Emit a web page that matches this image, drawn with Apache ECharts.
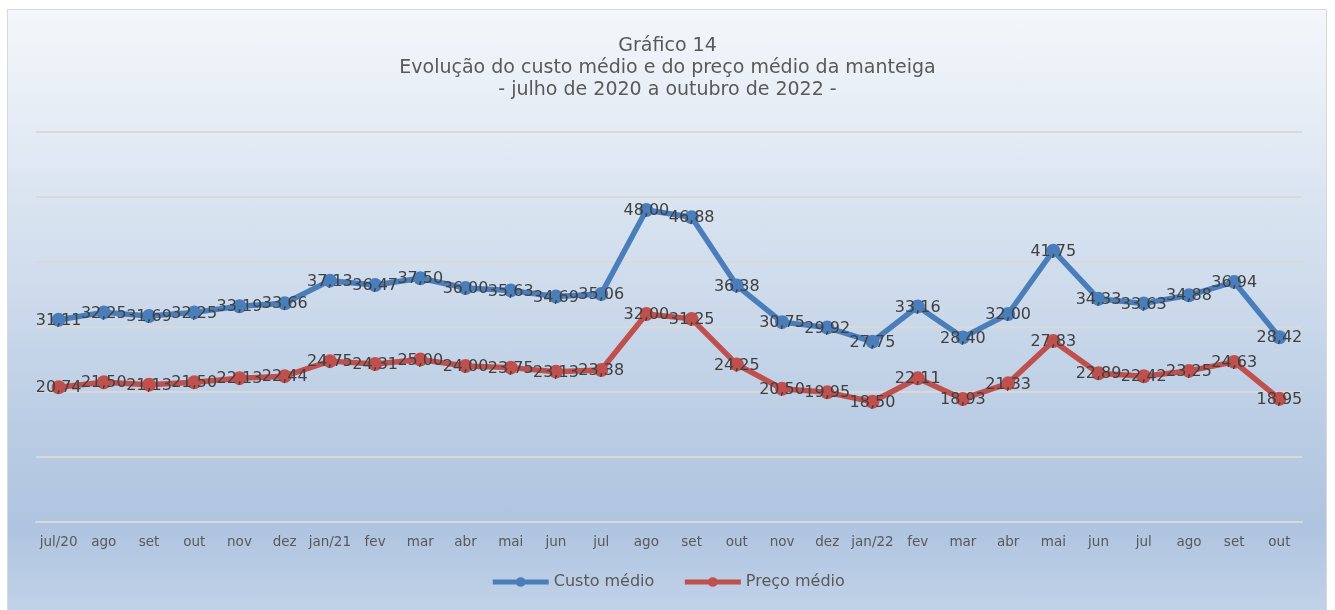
<!DOCTYPE html>
<html>
<head>
<meta charset="utf-8">
<script src="https://cdn.jsdelivr.net/npm/echarts@6/dist/echarts.min.js"></script>
<style>
  html, body { margin: 0; padding: 0; background: #fff; }
  #bg {
    position: absolute; left: 7px; top: 9px; width: 1320px; height: 610px;
    border: 1px solid #d9d9d9; box-sizing: border-box;
    background: linear-gradient(to bottom, #f4f7fb 0%, #dbe5f1 30%, #b9cce4 70%, #afc4e0 85%, #c3d4e9 100%);
  }
  #chart { position: absolute; left: 0; top: 0; width: 1335px; height: 610px; }
</style>
</head>
<body>
<div id="bg"></div>
<div id="chart"></div>
<script>
const categories = ['jul/20', 'ago', 'set', 'out', 'nov', 'dez', 'jan/21', 'fev', 'mar', 'abr', 'mai', 'jun', 'jul',
  'ago', 'set', 'out', 'nov', 'dez', 'jan/22', 'fev', 'mar', 'abr', 'mai', 'jun', 'jul', 'ago', 'set', 'out'];
const custoMedio = [31.11, 32.25, 31.69, 32.25, 33.19, 33.66, 37.13, 36.47, 37.50, 36.00, 35.63, 34.69, 35.06,
  48.00, 46.88, 36.38, 30.75, 29.92, 27.75, 33.16, 28.40, 32.00, 41.75, 34.33, 33.63, 34.88, 36.94, 28.42];
const precoMedio = [20.74, 21.50, 21.13, 21.50, 22.13, 22.44, 24.75, 24.31, 25.00, 24.00, 23.75, 23.13, 23.38,
  32.00, 31.25, 24.25, 20.50, 19.95, 18.50, 22.11, 18.93, 21.33, 27.83, 22.89, 22.42, 23.25, 24.63, 18.95];

const font = 'DejaVu Sans';
const fmt = (p) => p.value.toFixed(2).replace('.', ',');

function makeSeries(name, data, color) {
  return {
    name: name,
    type: 'line',
    data: data,
    symbol: 'circle',
    symbolSize: 14,
    lineStyle: { width: 5.5, color: color },
    itemStyle: { color: color },
    label: {
      show: true,
      position: 'inside',
      offset: [0, 1],
      formatter: fmt,
      color: '#404040',
      fontFamily: font,
      fontSize: 16
    },
    emphasis: { disabled: true },
    animation: false
  };
}

let chart = echarts.init(document.getElementById('chart'));
chart.setOption({
  backgroundColor: 'transparent',
  title: {
    text: 'Gráfico 14\nEvolução do custo médio e do preço médio da manteiga\n- julho de 2020 a outubro de 2022 -',
    left: 'center',
    top: 30,
    textStyle: {
      color: '#595959',
      fontFamily: font,
      fontWeight: 'normal',
      fontSize: 19,
      lineHeight: 22
    }
  },
  legend: {
    bottom: 15,
    left: 'center',
    itemWidth: 56,
    itemHeight: 12,
    itemGap: 28,
    lineStyle: { width: 5 },
    textStyle: { color: '#595959', fontFamily: font, fontSize: 16 },
    data: ['Custo médio', 'Preço médio']
  },
  grid: { left: 36, right: 33, top: 132, bottom: 88 },
  xAxis: {
    type: 'category',
    boundaryGap: true,
    data: categories,
    axisLine: { lineStyle: { color: '#d9d9d9', width: 2 } },
    axisTick: { show: false },
    axisLabel: { color: '#595959', fontFamily: font, fontSize: 13.5, margin: 13, interval: 0 }
  },
  yAxis: {
    type: 'value',
    min: 0,
    max: 60,
    interval: 10,
    axisLine: { show: false },
    axisTick: { show: false },
    axisLabel: { show: false },
    splitLine: { lineStyle: { color: '#d9d9d9', width: 2 } }
  },
  series: [
    makeSeries('Custo médio', custoMedio, '#4a7ebb'),
    makeSeries('Preço médio', precoMedio, '#c0504d')
  ]
});
window.addEventListener('resize', function() {
  chart.resize();
});
</script>
</body>
</html>
